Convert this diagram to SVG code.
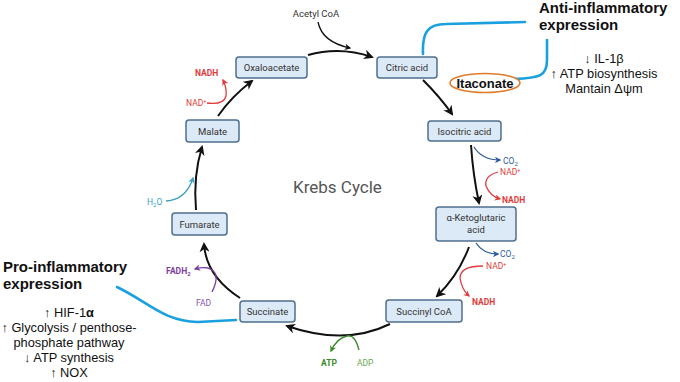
<svg xmlns="http://www.w3.org/2000/svg" width="680" height="382" viewBox="0 0 680 382">
<defs>
<style>
.box{fill:#dce9f7;stroke:#4f6f8f;stroke-width:1.5}
.nt{font-family:Roboto,"Liberation Sans",sans-serif;font-size:9.5px;fill:#333;text-anchor:middle}
.cyc{fill:none;stroke:#111;stroke-width:2}
.blue{fill:none;stroke:#1aa0de;stroke-width:2.6;stroke-linecap:round}
.sm{font-family:Roboto,"Liberation Sans",sans-serif;font-size:8.5px}
.hd{font-family:"Liberation Sans",Arial,sans-serif;font-size:15px;font-weight:bold;fill:#111}
.ls{font-family:"Liberation Sans",Arial,sans-serif;font-size:12.8px;fill:#111;text-anchor:middle}
</style>
<marker id="ak" viewBox="0 0 10 10" refX="8" refY="5" markerWidth="5" markerHeight="5" orient="auto" markerUnits="strokeWidth"><path d="M0,0 L10,5 L0,10 L3,5 z" fill="#111"/></marker>
<marker id="ab" viewBox="0 0 10 10" refX="8" refY="5" markerWidth="5" markerHeight="5" orient="auto" markerUnits="strokeWidth"><path d="M0,0 L10,5 L0,10 L3,5 z" fill="#2d5c9c"/></marker>
<marker id="ar" viewBox="0 0 10 10" refX="8" refY="5" markerWidth="5" markerHeight="5" orient="auto" markerUnits="strokeWidth"><path d="M0,0 L10,5 L0,10 L3,5 z" fill="#e03c3c"/></marker>
<marker id="ag" viewBox="0 0 10 10" refX="8" refY="5" markerWidth="5" markerHeight="5" orient="auto" markerUnits="strokeWidth"><path d="M0,0 L10,5 L0,10 L3,5 z" fill="#3a8a2a"/></marker>
<marker id="ap" viewBox="0 0 10 10" refX="8" refY="5" markerWidth="5" markerHeight="5" orient="auto" markerUnits="strokeWidth"><path d="M0,0 L10,5 L0,10 L3,5 z" fill="#7b3fa0"/></marker>
<marker id="ac" viewBox="0 0 10 10" refX="8" refY="5" markerWidth="5" markerHeight="5" orient="auto" markerUnits="strokeWidth"><path d="M0,0 L10,5 L0,10 L3,5 z" fill="#3a9fc0"/></marker>
</defs>
<rect width="680" height="382" fill="#fff"/>

<g id="connectors">
<path class="cyc" d="M308,55 Q340,46 372,57" marker-end="url(#ak)"/>
<path d="M318,22 Q322,42 350,48" fill="none" stroke="#111" stroke-width="1.3" marker-end="url(#ak)"/>
<path class="cyc" d="M423,80 Q440,97 452,114" marker-end="url(#ak)"/>
<path class="cyc" d="M471,145 Q473,175 479,203" marker-end="url(#ak)"/>
<path class="cyc" d="M469,247 Q458,276 437,296" marker-end="url(#ak)"/>
<path class="cyc" d="M390,324 Q345,346 287,326" marker-end="url(#ak)"/>
<path class="cyc" d="M240,298 Q206,276 204,244" marker-end="url(#ak)"/>
<path class="cyc" d="M196,210 Q193,176 202,147" marker-end="url(#ak)"/>
<path class="cyc" d="M218,116 Q232,96 252,81" marker-end="url(#ak)"/>

<path d="M474,147 Q482,160 500,160" fill="none" stroke="#2d5c9c" stroke-width="1.3" marker-end="url(#ab)"/>
<path d="M476,243 Q483,254 498,254" fill="none" stroke="#2d5c9c" stroke-width="1.3" marker-end="url(#ab)"/>
<path d="M498,172 Q484,176 486,186 Q490,196 500,199" fill="none" stroke="#e03c3c" stroke-width="1.3" marker-end="url(#ar)"/>
<path d="M483,266 Q460,266 460,278 Q462,290 469,296" fill="none" stroke="#e03c3c" stroke-width="1.3" marker-end="url(#ar)"/>
<path d="M207,103 Q224,105 226,96 Q227,88 223,80" fill="none" stroke="#e03c3c" stroke-width="1.3" marker-end="url(#ar)"/>
<path d="M359,350 Q355,334 347,336 Q337,338 331,351" fill="none" stroke="#3a8a2a" stroke-width="1.3" marker-end="url(#ag)"/>
<path d="M212,292 Q222,272 208,268 Q202,267 195,269" fill="none" stroke="#7b3fa0" stroke-width="1.3" marker-end="url(#ap)"/>
<path d="M166,201 Q186,200 193,178" fill="none" stroke="#3a9fc0" stroke-width="1.3" marker-end="url(#ac)"/>

<path class="blue" d="M423,54 C422,32 428,24 446,24 L525,22"/>
<path class="blue" d="M514,79 C540,78 547,76 547,60 L547,40"/>
<path class="blue" d="M117,287 C150,303 163,321 198,322 L236,320"/>
</g>

<g id="oxaloacetate"><rect class="box" x="236" y="57" width="71" height="21" rx="3"/><text class="nt" x="271.5" y="71">Oxaloacetate</text></g>
<g id="citric"><rect class="box" x="377" y="57" width="60" height="21" rx="3"/><text class="nt" x="407" y="71">Citric acid</text></g>
<g id="isocitric"><rect class="box" x="428" y="121" width="73" height="20" rx="3"/><text class="nt" x="464.5" y="134.5">Isocitric acid</text></g>
<g id="aketo"><rect class="box" x="436" y="207" width="80" height="34" rx="3"/><text class="nt" x="476" y="221">α-Ketoglutaric</text><text class="nt" x="476" y="233">acid</text></g>
<g id="succinylcoa"><rect class="box" x="386" y="300" width="76" height="22" rx="3"/><text class="nt" x="424" y="314.5">Succinyl CoA</text></g>
<g id="succinate"><rect class="box" x="240" y="301" width="55" height="21" rx="3"/><text class="nt" x="267.5" y="315">Succinate</text></g>
<g id="fumarate"><rect class="box" x="172" y="213" width="55" height="22" rx="3"/><text class="nt" x="199.5" y="227.5">Fumarate</text></g>
<g id="malate"><rect class="box" x="186" y="120" width="53" height="22" rx="3"/><text class="nt" x="212.5" y="134.5">Malate</text></g>

<g id="labels">
<text x="316" y="17" font-family="Roboto,'Liberation Sans',sans-serif" font-size="9.5px" fill="#333" text-anchor="middle">Acetyl CoA</text>
<text x="293" y="193" font-family="Roboto,'Liberation Sans',sans-serif" font-size="17px" fill="#555">Krebs Cycle</text>
<text class="sm" x="503" y="164" fill="#2d5c9c">CO<tspan font-size="6px" dy="1.5">2</tspan></text>
<text class="sm" x="500" y="257" fill="#2d5c9c">CO<tspan font-size="6px" dy="1.5">2</tspan></text>
<text class="sm" x="500" y="175" fill="#e03c3c">NAD<tspan font-size="5.5px" dy="-3">+</tspan></text>
<text class="sm" x="502" y="203" fill="#e03c3c" font-weight="bold">NADH</text>
<text class="sm" x="486" y="269" fill="#e03c3c">NAD<tspan font-size="5.5px" dy="-3">+</tspan></text>
<text class="sm" x="472" y="305" fill="#e03c3c" font-weight="bold">NADH</text>
<text class="sm" x="186" y="106" fill="#e03c3c">NAD<tspan font-size="5.5px" dy="-3">+</tspan></text>
<text class="sm" x="195" y="76" fill="#e03c3c" font-weight="bold">NADH</text>
<text class="sm" x="321" y="366" fill="#3a8a2a" font-weight="bold">ATP</text>
<text class="sm" x="357" y="366" fill="#6aa84f">ADP</text>
<text class="sm" x="196" y="306" fill="#8a55b0">FAD</text>
<text class="sm" x="166" y="274" fill="#7b3fa0" font-weight="bold">FADH<tspan font-size="6px" dy="1.5">2</tspan></text>
<text class="sm" x="147" y="205" fill="#3a9fc0">H<tspan font-size="6px" dy="1.5">2</tspan><tspan dy="-1.5">O</tspan></text>
</g>

<g id="itaconate"><ellipse cx="485" cy="83" rx="35" ry="9.5" fill="#fff" stroke="#e07b2a" stroke-width="1.6"/><text x="485" y="87.5" font-family="'Liberation Sans',Arial,sans-serif" font-size="13px" font-weight="bold" fill="#111" text-anchor="middle">Itaconate</text></g>

<g id="anti">
<text class="hd" x="539" y="13">Anti-inflammatory</text>
<text class="hd" x="539" y="30">expression</text>
<text class="ls" x="604" y="63">↓ IL-1β</text>
<text class="ls" x="604" y="78">↑ ATP biosynthesis</text>
<text class="ls" x="604" y="93">Mantain Δψm</text>
</g>

<g id="pro">
<text class="hd" x="3" y="272">Pro-inflammatory</text>
<text class="hd" x="3" y="289">expression</text>
<text class="ls" x="69" y="317">↑ HIF-1<tspan font-weight="bold">α</tspan></text>
<text class="ls" x="69" y="332">↑ Glycolysis / penthose-</text>
<text class="ls" x="69" y="347">phosphate pathway</text>
<text class="ls" x="69" y="362">↓ ATP synthesis</text>
<text class="ls" x="69" y="377">↑ NOX</text>
</g>
</svg>
